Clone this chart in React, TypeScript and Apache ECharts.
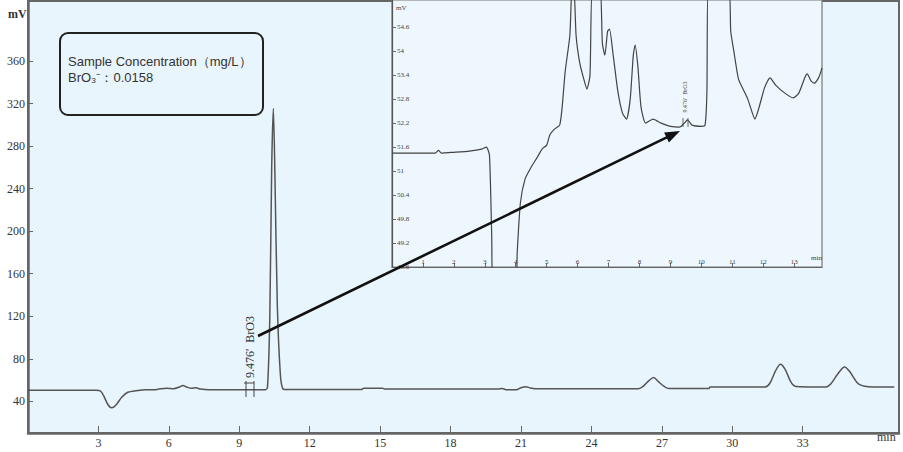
import React, { useEffect, useRef } from "react";
import * as echarts from "echarts";

// Main chromatogram (minutes, mV)
const mainTime = [
  0, 2.9, 3.1, 3.25, 3.4, 3.55, 3.65, 3.8, 4.0, 4.25, 4.6, 5.0, 5.5, 5.9, 6.2, 6.45, 6.6, 6.75, 6.95, 7.15, 7.35, 7.7,
  10.1, 10.2, 10.3, 10.38, 10.45, 10.52, 10.62, 10.75, 10.85, 11.0, 14.2, 14.3, 15.1, 15.2, 20.0, 20.2, 20.4, 20.8,
  21.0, 21.2, 21.4, 21.6, 26.0, 26.2, 26.45, 26.65, 26.85, 27.1, 27.3, 29.0, 29.05, 31.4, 31.6, 31.85, 32.05, 32.25,
  32.5, 32.7, 34.0, 34.2, 34.5, 34.78, 35.0, 35.3, 35.5, 35.8, 36.9,
];
const mainSignal = [
  50.5, 50.5, 49.5, 44, 37, 34, 34.5, 38, 44, 48.5, 50, 50.8, 51.2, 52.3, 51.8, 53.5, 54.8, 53.5, 52.2, 52.8, 51.5, 50.8,
  50.8, 53, 120, 260, 315.5, 250, 130, 65, 52, 51, 51, 52.3, 52.3, 51.5, 51.5, 52, 50.8, 50.8,
  52.8, 53.8, 52.5, 51.8, 51.8, 54, 59.5, 62.3, 58.5, 54, 52, 52, 53.5, 53.5, 57, 69, 74.8, 70, 58, 54,
  53.5, 56.5, 66, 72.3, 68, 58, 55, 53.8, 53.5,
];

// Inset (zoomed baseline, minutes, mV)
const insetTime = [
  0, 1.4, 1.5, 1.6, 2.0, 2.5, 2.9, 3.05, 3.15, 3.22, 3.3, 3.95, 4.05, 4.15, 4.3, 4.5, 4.7, 4.85, 5.0, 5.1, 5.25, 5.42,
  5.5, 5.6, 5.75, 5.82, 5.88, 5.95, 6.07, 6.2, 6.3, 6.4, 6.48, 6.72, 6.8, 6.88, 6.97, 7.03, 7.15, 7.3, 7.45, 7.58,
  7.7, 7.8, 7.86, 7.95, 8.05, 8.2, 8.44, 8.7, 9.0, 9.3, 9.45, 9.55, 9.7, 10.0, 10.12, 10.18, 10.22, 10.88, 10.95,
  11.05, 11.2, 11.35, 11.5, 11.65, 11.73, 11.85, 12.05, 12.22, 12.4, 12.7, 12.97, 13.15, 13.35, 13.42, 13.55, 13.65,
  13.8, 13.9,
];
const insetSignal = [
  51.45, 51.45, 51.52, 51.45, 51.47, 51.5, 51.55, 51.6, 51.4, 49.5, 47.5, 47.5, 49.0, 50.2, 50.8, 51.1, 51.35, 51.55,
  51.65, 51.9, 52.05, 52.15, 52.6, 53.5, 54.4, 55.6, 55.6, 54.4, 53.7, 53.3, 53.05, 53.4, 55.6, 55.6, 54.2, 53.9,
  54.5, 54.55, 53.9, 53.0, 52.45, 52.3, 52.8, 53.9, 54.15, 53.6, 52.6, 52.2, 52.3, 52.2, 52.12, 52.1, 52.2, 52.28,
  52.15, 52.12, 52.15, 53.0, 55.6, 55.6, 54.5, 54.0, 53.3, 53.05, 52.8, 52.45, 52.3, 52.55, 53.1, 53.33, 53.15, 52.95,
  52.83, 52.95, 53.35, 53.43, 53.25, 53.2, 53.35, 53.58,
];

const mainXTicks = [3, 6, 9, 12, 15, 18, 21, 24, 27, 30, 33];
const mainYTicks = [40, 80, 120, 160, 200, 240, 280, 320, 360];
const insetXTicks = [1, 2, 3, 4, 5, 6, 7, 8, 9, 10, 11, 12, 13];
const insetYTicks = [48.6, 49.2, 49.8, 50.4, 51, 51.6, 52.2, 52.8, 53.4, 54, 54.6];

const peakLabel = "9.476'  BrO3";
const legendTitle = "Sample Concentration（mg/L）";
const legendValue = "BrO₃⁻：0.0158";

const SERIF = "'Liberation Serif', 'DejaVu Serif', serif";
const SANS = "'Liberation Sans', Arial, sans-serif";
const BG = "#e9f5fc";

export default function App() {
  const ref = useRef<HTMLDivElement>(null);

  useEffect(() => {
    if (!ref.current) return;
    const chart = echarts.init(ref.current, undefined, { renderer: "svg" });

    const mainData = mainTime.map((t, i) => [t, mainSignal[i]]);
    const insetData = insetTime.map((t, i) => [t, insetSignal[i]]);

    // arrow geometry
    const ax0 = 258, ay0 = 336, ax1 = 680, ay1 = 131;
    const dx = ax1 - ax0, dy = ay1 - ay0;
    const len = Math.sqrt(dx * dx + dy * dy);
    const ux = dx / len, uy = dy / len;
    const nx = -uy, ny = ux;
    const hl = 15, hw = 5.5;
    const bx = ax1 - hl * ux, by = ay1 - hl * uy;

    chart.setOption({
      animation: false,
      grid: [
        {
          left: 28, top: 1, right: 4, bottom: 19,
          show: true, backgroundColor: BG, borderColor: "#666", borderWidth: 2,
        },
        {
          left: 392, top: 0, width: 430, height: 267,
          show: true, backgroundColor: "#edf7fd", borderColor: "#777", borderWidth: 1.2, z: 3,
        },
      ],
      xAxis: [
        {
          type: "value", gridIndex: 0, min: 0, max: 37.1,
          axisLine: { show: true, lineStyle: { color: "#666", width: 2.5 } },
          axisTick: { show: true, inside: true, length: 7, customValues: mainXTicks, lineStyle: { color: "#666" } },
          axisLabel: {
            customValues: mainXTicks, color: "#333", fontFamily: SERIF, fontSize: 12, margin: 4,
          },
          splitLine: { show: false },
        },
        {
          type: "value", gridIndex: 1, min: 0, max: 13.9, z: 4,
          axisLine: { show: true, lineStyle: { color: "#666", width: 1.2 } },
          axisTick: { show: true, inside: true, length: 4, customValues: insetXTicks, lineStyle: { color: "#666" } },
          axisLabel: {
            customValues: insetXTicks, inside: true, color: "#444", fontFamily: SERIF, fontSize: 7, margin: 2,
          },
          splitLine: { show: false },
        },
      ],
      yAxis: [
        {
          type: "value", gridIndex: 0, min: 10.2, max: 416.5,
          axisLine: { show: true, lineStyle: { color: "#666", width: 2.5 } },
          axisTick: { show: true, inside: true, length: 5, customValues: mainYTicks, lineStyle: { color: "#666" } },
          axisLabel: {
            customValues: mainYTicks, color: "#333", fontFamily: SERIF, fontSize: 12, margin: 3,
          },
          splitLine: { show: false },
        },
        {
          type: "value", gridIndex: 1, min: 48.6, max: 55.28, z: 4,
          axisLine: { show: true, lineStyle: { color: "#555", width: 1.2 } },
          axisTick: { show: true, inside: true, length: 4, customValues: insetYTicks, lineStyle: { color: "#666" } },
          axisLabel: {
            customValues: insetYTicks, inside: true, color: "#444", fontFamily: SERIF, fontSize: 7, margin: 5,
            formatter: (v: number) => String(Math.round(v * 10) / 10),
          },
          splitLine: { show: false },
        },
      ],
      series: [
        {
          type: "line", xAxisIndex: 0, yAxisIndex: 0, data: mainData, showSymbol: false, symbol: "none",
          lineStyle: { color: "#555", width: 1.5 }, smooth: 0.3, clip: true,
        },
        {
          type: "line", xAxisIndex: 1, yAxisIndex: 1, data: insetData, showSymbol: false, symbol: "none",
          lineStyle: { color: "#444", width: 1.2 }, smooth: 0.2, clip: true, z: 5,
        },
      ],
      graphic: [
        { type: "text", left: 8, top: 8, style: { text: "mV", font: `bold 12px ${SERIF}`, fill: "#333" } },
        { type: "text", left: 877, top: 431, style: { text: "min", font: `12px ${SERIF}`, fill: "#333" } },
        { type: "text", left: 396, top: 4, z: 10, style: { text: "mV", font: `7px ${SERIF}`, fill: "#444" } },
        { type: "text", left: 811, top: 254, z: 10, style: { text: "min", font: `7px ${SERIF}`, fill: "#444" } },
        {
          type: "rect", z: 10,
          shape: { x: 60, y: 33, width: 203, height: 82, r: 8 },
          style: { fill: BG, stroke: "#222", lineWidth: 2 },
        },
        {
          type: "text", z: 11, x: 68, y: 61,
          style: { text: legendTitle, font: `13px ${SANS}`, fill: "#333", verticalAlign: "middle" },
        },
        {
          type: "text", z: 11, x: 68, y: 77,
          style: { text: legendValue, font: `13px ${SANS}`, fill: "#333", verticalAlign: "middle" },
        },
        {
          type: "text", z: 11, x: 250, y: 347, rotation: Math.PI / 2,
          style: { text: peakLabel, font: `12px ${SERIF}`, fill: "#333", align: "center", verticalAlign: "middle" },
        },
        { type: "line", z: 11, shape: { x1: 246, y1: 381, x2: 246, y2: 397 }, style: { stroke: "#444", lineWidth: 1 } },
        { type: "line", z: 11, shape: { x1: 254, y1: 381, x2: 254, y2: 397 }, style: { stroke: "#444", lineWidth: 1 } },
        { type: "line", z: 11, shape: { x1: 244, y1: 383, x2: 254, y2: 383 }, style: { stroke: "#444", lineWidth: 1 } },
        {
          type: "text", z: 11, x: 685, y: 97, rotation: Math.PI / 2,
          style: { text: peakLabel, font: `6px ${SERIF}`, fill: "#444", align: "center", verticalAlign: "middle" },
        },
        { type: "line", z: 11, shape: { x1: 683, y1: 118, x2: 683, y2: 127 }, style: { stroke: "#444", lineWidth: 0.8 } },
        { type: "line", z: 11, shape: { x1: 688, y1: 118, x2: 688, y2: 127 }, style: { stroke: "#444", lineWidth: 0.8 } },
        {
          type: "line", z: 20,
          shape: { x1: ax0, y1: ay0, x2: bx + 2 * ux, y2: by + 2 * uy },
          style: { stroke: "#111", lineWidth: 2.6 },
        },
        {
          type: "polygon", z: 20,
          shape: { points: [[ax1, ay1], [bx + hw * nx, by + hw * ny], [bx - hw * nx, by - hw * ny]] },
          style: { fill: "#111" },
        },
      ],
    });

    return () => chart.dispose();
  }, []);

  return (
    <div
      ref={ref}
      style={{ position: "fixed", left: 0, top: 0, width: 903, height: 452, background: "#fff" }}
    />
  );
}
